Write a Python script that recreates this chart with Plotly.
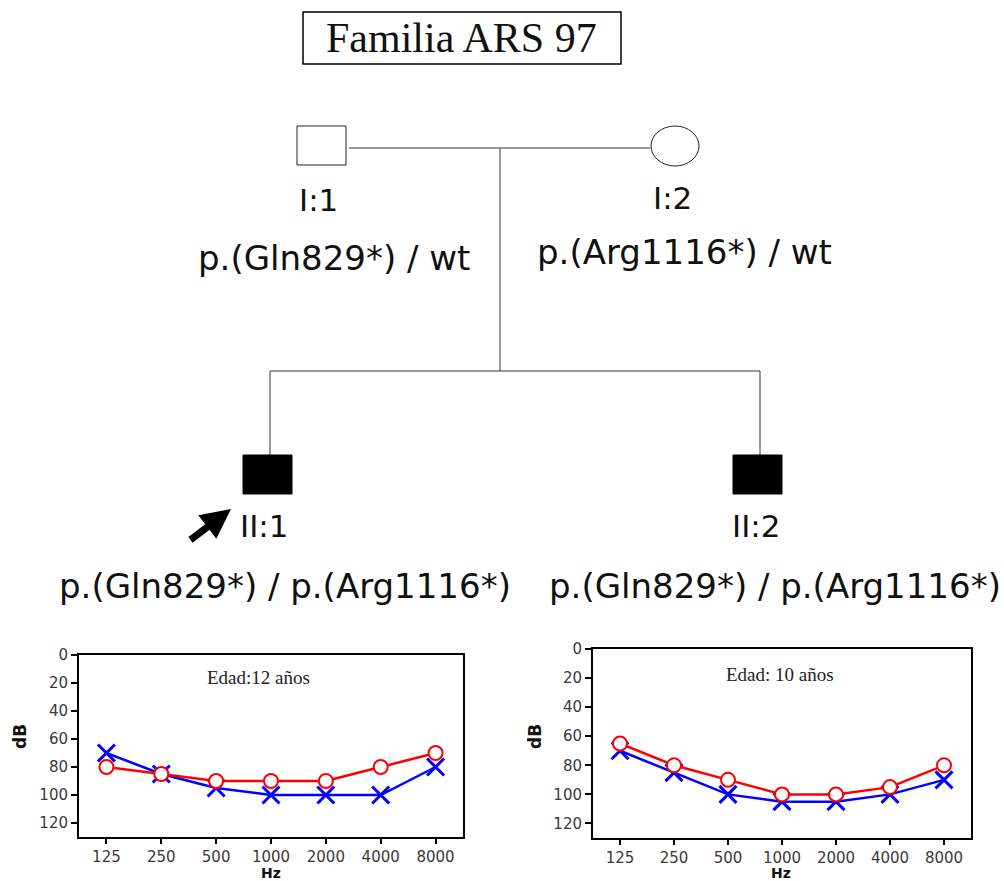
import plotly.graph_objects as go

# ---------------- data ----------------
freqs = ["125", "250", "500", "1000", "2000", "4000", "8000"]
db_ticks = [0, 20, 40, 60, 80, 100, 120]

# II:1 (Edad 12 años)
ii1_red = [80, 85, 90, 90, 90, 80, 70]
ii1_blue = [70, 85, 95, 100, 100, 100, 80]
# II:2 (Edad 10 años)
ii2_red = [65, 80, 90, 100, 100, 95, 80]
ii2_blue = [70, 85, 100, 105, 105, 100, 90]

title_text = "Familia ARS 97"
ids = ["I:1", "I:2", "II:1", "II:2"]
genotypes = ["p.(Gln829*) / wt", "p.(Arg1116*) / wt",
             "p.(Gln829*) / p.(Arg1116*)", "p.(Gln829*) / p.(Arg1116*)"]
ages = ["Edad:12 años", "Edad: 10 años"]

W, H = 1004, 881
SANS = "DejaVu Sans"
SERIF = "Liberation Serif"

fig = go.Figure()


def add_audio(xa, ya, red, blue):
    fig.add_trace(go.Scatter(
        x=freqs, y=blue, xaxis=xa, yaxis=ya, mode="lines+markers",
        line=dict(color="#0000ff", width=2.5),
        marker=dict(symbol="x-thin-open", size=17,
                    line=dict(color="#0000ff", width=3)),
        showlegend=False, hoverinfo="skip", cliponaxis=False))
    fig.add_trace(go.Scatter(
        x=freqs, y=red, xaxis=xa, yaxis=ya, mode="lines+markers",
        line=dict(color="#ff0000", width=2.5),
        marker=dict(symbol="circle", size=14, color="white",
                    line=dict(color="#ff0000", width=2)),
        showlegend=False, hoverinfo="skip", cliponaxis=False))


add_audio("x", "y", ii1_red, ii1_blue)
add_audio("x2", "y2", ii2_red, ii2_blue)

tickfont = dict(family=SANS, size=15, color="#3a3a3a")


def xax(domain, anchor):
    return dict(domain=domain, anchor=anchor, type="category",
                range=[-0.5, 6.5], showline=True, mirror=True,
                linecolor="black", linewidth=2, ticks="outside",
                ticklen=5, tickwidth=1.5, tickcolor="black",
                tickfont=tickfont, showgrid=False, zeroline=False,
                fixedrange=True, automargin=False)


def yax(domain, anchor):
    return dict(domain=domain, anchor=anchor, range=[130, 0],
                tickvals=db_ticks, showline=True, mirror=True,
                linecolor="black", linewidth=2, ticks="outside",
                ticklen=6, tickwidth=1.5, tickcolor="black",
                tickfont=tickfont, showgrid=False, zeroline=False,
                fixedrange=True, automargin=False)


def px_dom(a, b):
    return [a / W, b / W]


def py_dom(top, bottom):
    return [1 - bottom / H, 1 - top / H]


def PX(x):
    return x / W


def PY(y):
    return 1 - y / H


fig.update_layout(
    width=W, height=H, margin=dict(l=0, r=0, t=0, b=0, pad=0),
    autosize=False,
    paper_bgcolor="white", plot_bgcolor="rgba(0,0,0,0)",
    showlegend=False,
    xaxis=xax(px_dom(79, 463), "y"),
    yaxis=yax(py_dom(655, 837), "x"),
    xaxis2=xax(px_dom(593, 971), "y2"),
    yaxis2=yax(py_dom(649, 838), "x2"),
)

line_col = "#333333"
shapes = []


def rect(x0, x1, y0, y1, lc, lw, fc, kind="rect"):
    shapes.append(dict(type=kind, xref="paper", yref="paper",
                       x0=PX(x0), x1=PX(x1), y0=PY(y1), y1=PY(y0),
                       line=dict(color=lc, width=lw), fillcolor=fc))


def seg(x0, y0, x1, y1):
    shapes.append(dict(type="line", xref="paper", yref="paper",
                       x0=PX(x0), x1=PX(x1), y0=PY(y0), y1=PY(y1),
                       line=dict(color=line_col, width=1)))


# title box
rect(303, 621, 12, 64, "black", 1.5, "white")
# parents
rect(297, 346, 126, 165, "#222", 1, "white")
rect(651, 699, 126, 166, "#222", 1, "white", kind="circle")
# mating line / descent / sibship
seg(349, 148, 650, 148)
seg(500, 148, 500, 371)
seg(270, 371, 760, 371)
seg(270, 371, 270, 455)
seg(760, 371, 760, 455)
# affected children
rect(243, 292, 455, 494, "black", 1, "black")
rect(733, 782, 455, 494, "black", 1, "black")
fig.update_layout(shapes=shapes)

ann = []


def txt(x, y, s, size, family=SANS, color="#111", bold=False, angle=0):
    ann.append(dict(x=PX(x), y=PY(y), xref="paper", yref="paper",
                    text=("<b>%s</b>" % s) if bold else s,
                    showarrow=False, font=dict(family=family, size=size, color=color),
                    xanchor="center", yanchor="middle", textangle=angle,
                    borderpad=0))


txt(461, 38, title_text, 42, family=SERIF, color="#111")
txt(318, 200, ids[0], 31)
txt(672, 198, ids[1], 31)
txt(334, 258, genotypes[0], 34)
txt(684, 252, genotypes[1], 34)
txt(264, 526, ids[2], 31)
txt(756, 526, ids[3], 31)
txt(285, 586, genotypes[2], 34)
txt(775, 586, genotypes[3], 34)
# audiogram texts
txt(258, 677, ages[0], 19, family=SERIF, color="#222")
txt(780, 674, ages[1], 19, family=SERIF, color="#222")
txt(20, 737, "dB", 17, bold=True, angle=-90)
txt(535, 737, "dB", 17, bold=True, angle=-90)
txt(271, 873, "Hz", 14, bold=True)
txt(781, 873, "Hz", 14, bold=True)

# proband arrow (tail offset given in pixels from the head)
ann.append(dict(x=PX(231), y=PY(509), ax=-42, ay=32,
                xref="paper", yref="paper", axref="pixel", ayref="pixel",
                text="", showarrow=True, arrowhead=2, arrowsize=0.85, arrowwidth=7,
                arrowcolor="black", standoff=0, startstandoff=0))
fig.update_layout(annotations=ann)

fig.write_html("out.html", config={"displayModeBar": False},
               post_script="document.body.style.margin='0';")
